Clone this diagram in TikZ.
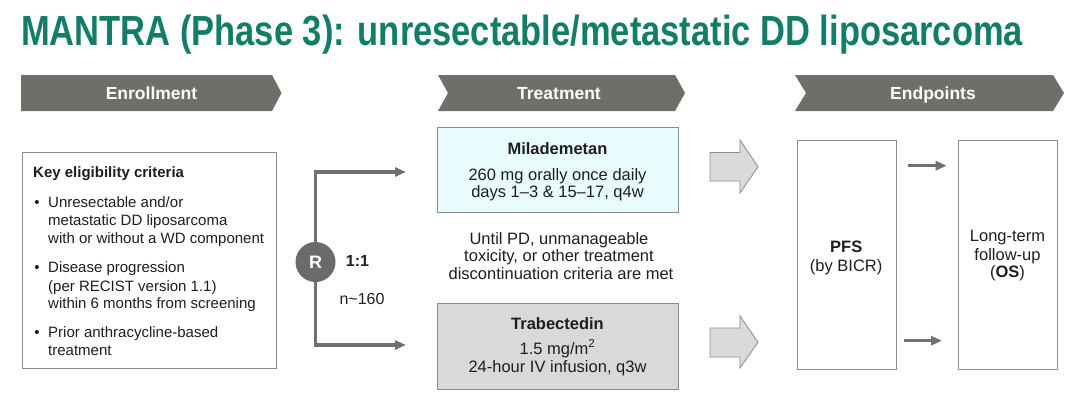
\documentclass[tikz,border=0pt]{standalone}
\usepackage{fontspec}
\setmainfont{Liberation Sans}
\usetikzlibrary{arrows.meta,calc}
\definecolor{titlecol}{HTML}{127E68}
\definecolor{chev}{HTML}{6E6F69}
\definecolor{linecol}{HTML}{707070}
\definecolor{rcol}{HTML}{6B6B6B}
\definecolor{boxline}{HTML}{8C8C8C}
\definecolor{cyanfill}{HTML}{E8FBFD}
\definecolor{grayfill}{HTML}{D9D9D9}
\definecolor{arrfill}{HTML}{DADADA}
\definecolor{txt}{HTML}{1E1E1E}
\begin{document}
\begin{tikzpicture}[x=1pt,y=-1pt,
  headtxt/.style={text=white,font=\fontsize{17.5}{20}\selectfont\bfseries,inner sep=0,anchor=base},
  box/.style={draw=boxline,line width=0.8pt,inner sep=0,anchor=north west},
  crit/.style={text=txt,font=\fontsize{15}{18}\selectfont,inner sep=0,anchor=base west},
  bul/.style={text=txt,font=\fontsize{15}{18}\selectfont,inner sep=0,anchor=base},
  ttxt/.style={text=txt,font=\fontsize{16.5}{19}\selectfont,inner sep=0,anchor=base},
  tbold/.style={ttxt,font=\fontsize{16.5}{19}\selectfont\bfseries},
  conn/.style={draw=linecol,line width=3.2pt,-{Triangle[length=11pt,width=9pt]}},
  blockarrow/.style={fill=arrfill,draw=boxline,line width=0.8pt,line join=miter}
]
\useasboundingbox (0,0) rectangle (1074,397);
\fill[white] (0,0) rectangle (1074,397);

% title
\node[anchor=base west,inner sep=0,text=titlecol] (title) at (21,45)
  {\resizebox{1002pt}{30.5pt}{\fontsize{42}{42}\selectfont\bfseries MANTRA (Phase 3): unresectable/metastatic DD liposarcoma}};

% header chevrons
\fill[chev] (21,75) -- (272,75) -- (281.5,93) -- (272,111) -- (21,111) -- cycle;
\node[headtxt] (h1) at (151.5,99.3) {Enrollment};
\fill[chev] (438,75) -- (675,75) -- (685,93) -- (675,111) -- (438,111) -- (448,93) -- cycle;
\node[headtxt] (h2) at (559,99.3) {Treatment};
\fill[chev] (795,75) -- (1053,75) -- (1064,93) -- (1053,111) -- (795,111) -- (806,93) -- cycle;
\node[headtxt] (h3) at (933,99.3) {Endpoints};

% eligibility box
\node[box,minimum width=254,minimum height=216] (critbox) at (22,152) {};
\node[crit,font=\fontsize{15}{18}\selectfont\bfseries] (keyc) at (33,177.7) {Key eligibility criteria};
\foreach \y/\t [count=\i] in {207/{Unresectable and/or},225.3/{metastatic DD liposarcoma},243.7/{with or without a WD component},
  272/{Disease progression},291/{(per RECIST version 1.1)},308.7/{within 6 months from screening},
  337/{Prior anthracycline-based},355.3/{treatment}}
  \node[crit] (c\i) at (48,\y) {\t};
\foreach \y [count=\i] in {207,272,337}
  \node[bul] (b\i) at (37,\y) {•};

% randomisation
\node[circle,fill=rcol,minimum size=40,inner sep=0,text=white,font=\fontsize{18}{20}\selectfont\bfseries] (R) at (315.5,262) {R};
\coordinate (m1) at (406,172);
\coordinate (t1) at (406,345);
\draw[conn] (R.north) |- (m1);
\draw[conn] (R.south) |- (t1);
\node[ttxt,font=\fontsize{16}{19}\selectfont\bfseries] (ratio) at (357.5,266) {1:1};
\node[ttxt,font=\fontsize{16}{19}\selectfont] (n) at (362,304) {n\textasciitilde160};

% treatment boxes
\node[box,fill=cyanfill,minimum width=241,minimum height=85] (mil) at (437,127) {};
\node[tbold] (mil1) at (557.5,154) {Milademetan};
\node[ttxt] (mil2) at (557.5,180.7) {260 mg orally once daily};
\node[ttxt] (mil3) at (557.5,197.3) {days 1–3 \& 15–17, q4w};

\node[ttxt] (u1) at (559,244) {Until PD, unmanageable};
\node[ttxt] (u2) at (559,261.3) {toxicity, or other treatment};
\node[ttxt] (u3) at (561,279) {discontinuation criteria are met};

\node[box,fill=grayfill,minimum width=241,minimum height=86.3] (tra) at (437,302.7) {};
\node[tbold] (tra1) at (557.5,329) {Trabectedin};
\node[ttxt] (tra2) at (557.5,354) {1.5 mg/m\textsuperscript{2}};
\node[ttxt] (tra3) at (557.5,372.3) {24-hour IV infusion, q3w};

% block arrows
\path[blockarrow] (710,152.5) -- (740,152.5) -- (740,140) -- (758,166.7) -- (740,193) -- (740,181) -- (710,181) -- cycle;
\path[blockarrow] (710,328) -- (740,328) -- (740,316) -- (758,342.3) -- (740,368) -- (740,357) -- (710,357) -- cycle;

% endpoint boxes
\node[box,minimum width=99,minimum height=229] (pfs) at (796.7,140) {};
\node[tbold] (pfs1) at (846.2,252) {PFS};
\node[ttxt] (pfs2) at (846.2,271) {(by BICR)};
\node[box,minimum width=99,minimum height=229] (os) at (958,140) {};
\node[ttxt] (os1) at (1007.5,241.7) {Long-term};
\node[ttxt] (os2) at (1007.5,260) {follow-up};
\node[ttxt] (os3) at (1007.5,277.7) {(\textbf{OS})};

\coordinate (pa1) at (908,165.7);
\coordinate (pa2) at (946.7,165.7);
\coordinate (pb1) at (904,340.7);
\coordinate (pb2) at (942,340.7);
\draw[conn] (pa1) -- (pa2);
\draw[conn] (pb1) -- (pb2);
\end{tikzpicture}
\end{document}
